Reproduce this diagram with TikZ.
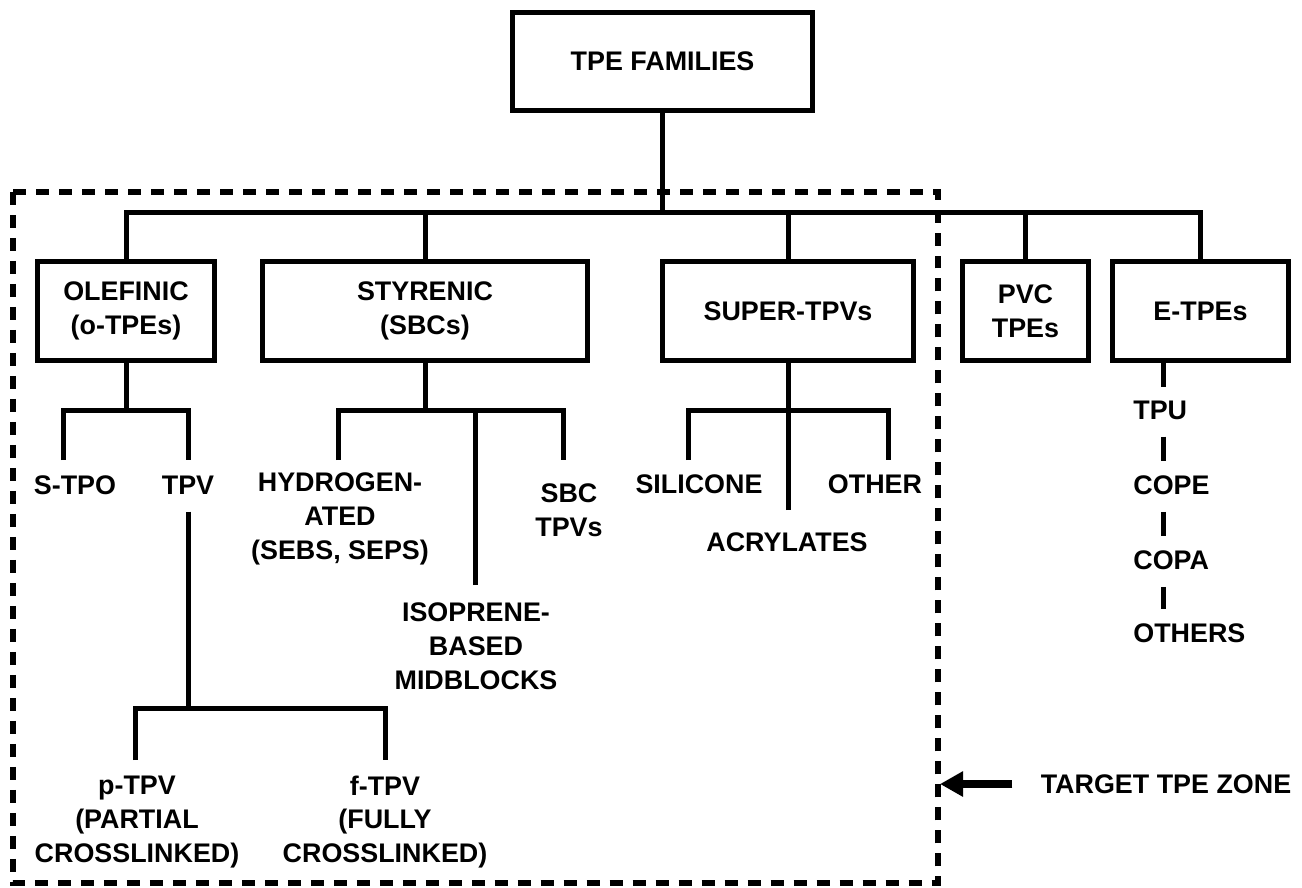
\documentclass[tikz,border=0pt]{standalone}
\usepackage{fontspec}
\setmainfont{Liberation Sans}
\usetikzlibrary{arrows.meta}
\tikzset{
	famtext/.style={font=\fontsize{15.3}{19.3}\selectfont\bfseries, align=center, inner sep=0pt},
	familybox/.style={famtext, draw, line width=0.1cm, minimum height=1.98cm},
	conn/.style={line width=0.1cm},
	zone/.style={line width=0.12cm, dash pattern=on 0.26cm off 0.2cm},
	zonearrow/.style={line width=0.16cm, -{Triangle[length=0.46cm, width=0.48cm]}},
}

\begin{document}
\begin{tikzpicture}[x=0.02cm, y=-0.02cm]
			%%%%% START %%%%%
			\useasboundingbox (0, 0) rectangle (1302, 887);
			
			% target zone
			\draw[zone] (13, 192) rectangle (938, 883);
			\coordinate (zoneSE) at (940, 883);
			
			% family boxes
			\node[familybox, minimum width=6cm, minimum height=1.96cm] (fam) at (662.5, 61.5) {TPE FAMILIES};
			\node[familybox, minimum width=3.54cm] (ole) at (126, 311) {OLEFINIC\\(o-TPEs)};
			\node[familybox, minimum width=6.5cm] (sty) at (425, 311) {STYRENIC\\(SBCs)};
			\node[familybox, minimum width=5.02cm] (sup) at (788, 311) {SUPER-TPVs};
			\node[familybox, minimum width=2.52cm] (pvc) at (1025.5, 311) {PVC\\TPEs};
			\node[familybox, minimum width=3.52cm] (etpe) at (1200.5, 311) {E-TPEs};
			
			\coordinate (bus) at (0, 212);
			\draw[conn] (fam.south) -- (fam.south |- bus);
			\draw[conn] (ole.north) |- (etpe.north |- bus) -- (etpe.north);
			\foreach \n in {sty, sup, pvc}
				\draw[conn] (\n.north) -- (\n.north |- bus);
			
			% olefinic
			\node[famtext] (stpo) at (75, 485) {S-TPO};
			\node[famtext] (tpv) at (188, 485) {TPV};
			\coordinate (stpoL) at (63, 460);
			\coordinate (tpvL) at (188, 460);
			\draw[conn] (ole.south) -- ++(0, 47) coordinate (oleJ);
			\draw[conn] (stpoL) |- (oleJ) -| (tpvL);
			
			\node[famtext] (ptpv) at (137, 822) {p-TPV\\(PARTIAL\\CROSSLINKED)};
			\node[famtext] (ftpv) at (385, 822) {f-TPV\\(FULLY\\CROSSLINKED)};
			\coordinate (tpvJ) at (188, 708);
			\coordinate (ptpvL) at (135, 760);
			\coordinate (ftpvL) at (385, 760);
			\draw[conn, shorten <=0.34cm] (tpv.south) -- (tpvJ);
			\draw[conn] (ptpvL) |- (tpvJ) -| (ftpvL);
			
			% styrenic
			\node[famtext] (hyd) at (340, 519) {HYDROGEN-\\ATED\\(SEBS, SEPS)};
			\node[famtext] (iso) at (476, 646) {ISOPRENE-\\BASED\\MIDBLOCKS};
			\node[famtext] (sbc) at (569, 510) {SBC\\TPVs};
			\coordinate (hydL) at (338, 460);
			\coordinate (isoL) at (475, 585);
			\coordinate (sbcL) at (563, 460);
			\draw[conn] (sty.south) -- ++(0, 47) coordinate (styJ);
			\draw[conn] (hydL) |- (styJ) -| (sbcL);
			\draw[conn] (isoL) -- (isoL |- styJ);
			
			% super-tpvs
			\node[famtext] (sil) at (699, 484) {SILICONE};
			\node[famtext] (acr) at (787, 542) {ACRYLATES};
			\node[famtext] (oth) at (875, 484) {OTHER};
			\coordinate (silL) at (688, 460);
			\coordinate (acrL) at (788, 510);
			\coordinate (othL) at (888, 460);
			\draw[conn] (sup.south) -- ++(0, 47) coordinate (supJ);
			\draw[conn] (silL) |- (supJ) -| (othL);
			\draw[conn] (acrL) -- (acrL |- supJ);
			
			% e-tpes
			\node[famtext, anchor=west] (tpu) at (1133, 410) {TPU};
			\node[famtext, anchor=west] (cope) at (1133, 485) {COPE};
			\node[famtext, anchor=west] (copa) at (1133, 560) {COPA};
			\node[famtext, anchor=west] (others) at (1133, 633) {OTHERS};
			\coordinate (etStub) at (1163, 387);
			\draw[conn] (etpe.south -| etStub) -- (etStub);
			\foreach \a/\b in {tpu/cope, cope/copa, copa/others}
				\draw[conn, shorten <=0.34cm, shorten >=0.28cm] (\a.south -| etStub) -- (\b.north -| etStub);
			
			% label
			\node[famtext] (tgt) at (1166, 784) {TARGET TPE ZONE};
			\draw[zonearrow] ([xshift=-0.56cm]tgt.west) -- (tgt.west -| zoneSE);
			
			%%%%% END %%%%%
		\end{tikzpicture}
\end{document}
